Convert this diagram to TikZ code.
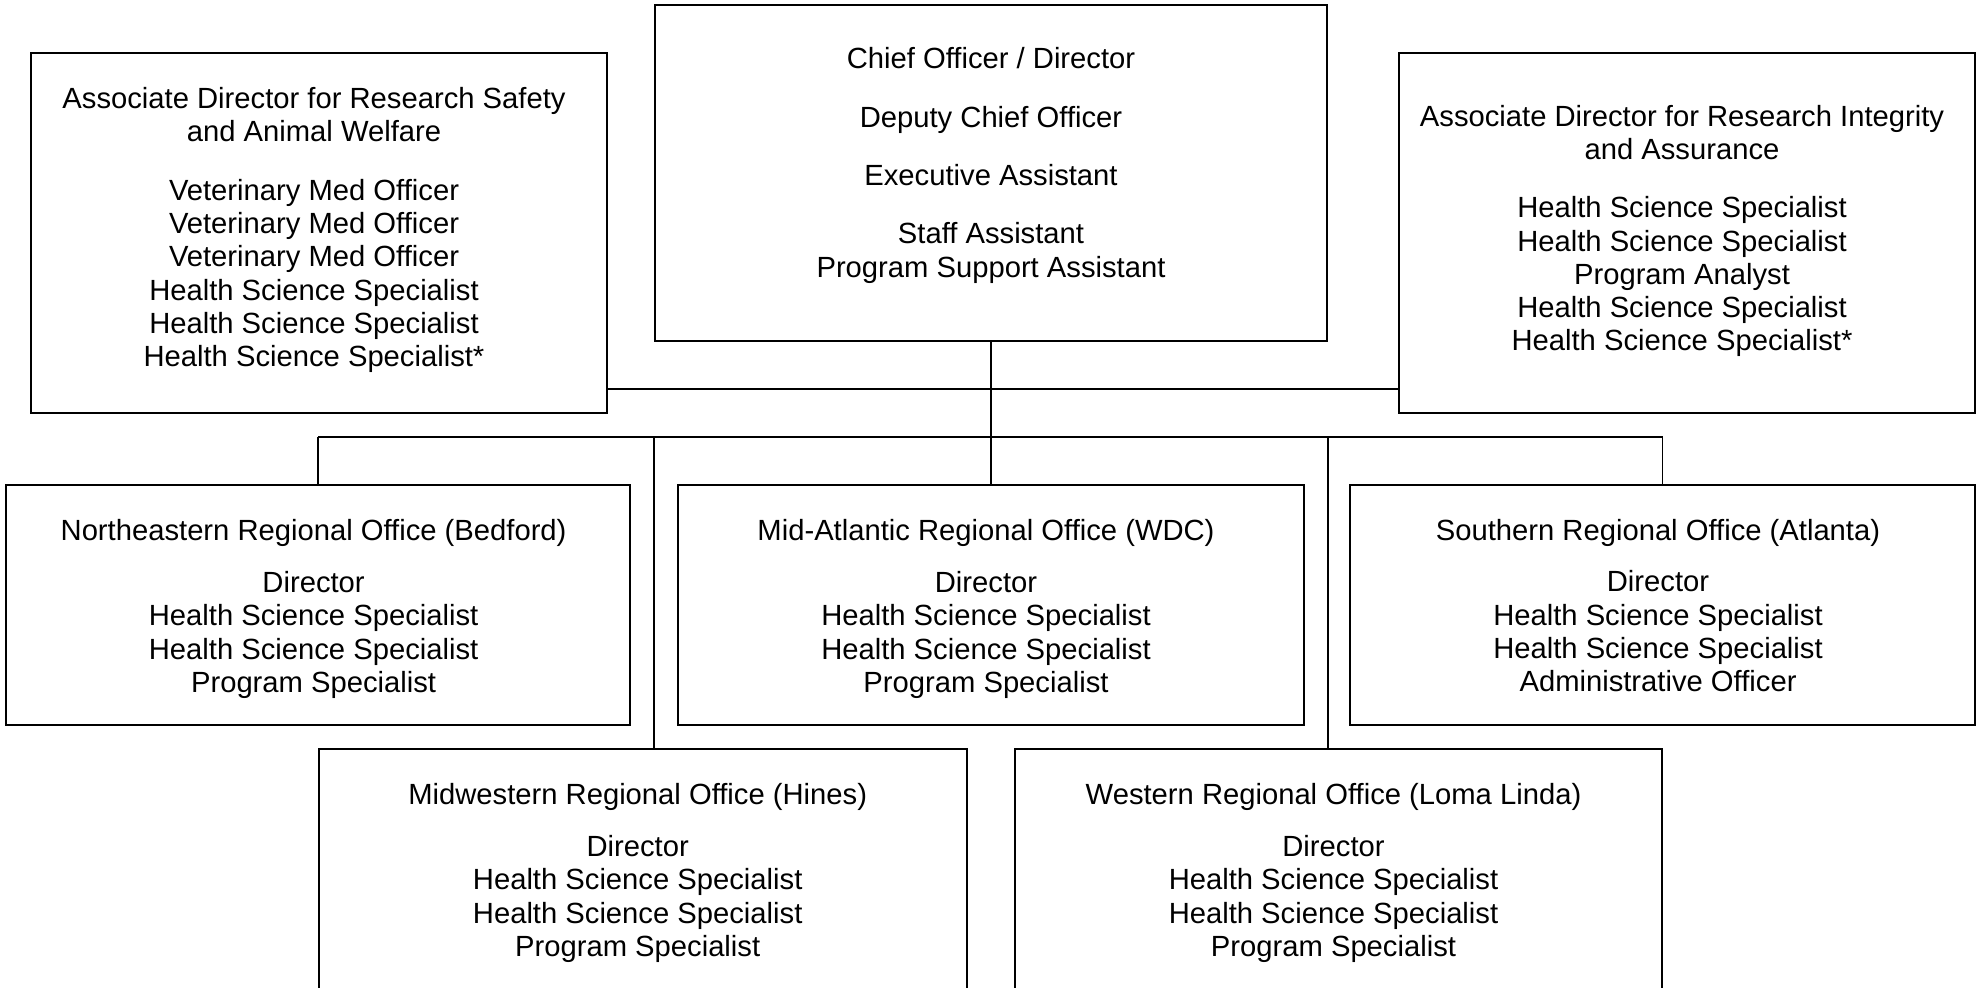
\documentclass[tikz,border=0pt]{standalone}
\usepackage{fontspec}
\setmainfont{Liberation Sans}
\usetikzlibrary{fit}
\begin{document}
\begin{tikzpicture}[x=0.5pt,y=-0.5pt,
  box/.style={draw=black, line width=0.9pt, inner sep=0pt, rectangle},
  lbl/.style={align=center, font=\fontsize{14.6pt}{16.65pt}\selectfont, inner sep=0pt, text=black},
  conn/.style={draw=black, line width=0.9pt}]
\useasboundingbox (0,0) rectangle (1981,987);
\fill[white] (0,0) rectangle (1981,987);
\clip (0,0) rectangle (1981,987);

% boxes
\node[box, fit={(31,53) (607,413)}] (adrs) {};
\node[box, fit={(655,5) (1327,341)}] (chief) {};
\node[box, fit={(1399,53) (1975,413)}] (adri) {};
\node[box, fit={(6,485) (630,725)}] (ne) {};
\node[box, fit={(678,485) (1304,725)}] (ma) {};
\node[box, fit={(1350,485) (1975,725)}] (so) {};
\node[box, fit={(319,749) (967,989)}] (mw) {};
\node[box, fit={(1015,749) (1662,989)}] (we) {};

% texts
\node[lbl] (tadrs) at (314,230) {Associate Director for Research Safety\\and Animal Welfare\\[12.5pt]Veterinary Med Officer\\Veterinary Med Officer\\Veterinary Med Officer\\Health Science Specialist\\Health Science Specialist\\Health Science Specialist*};
\node[lbl] (tchief) at (991,165.5) {Chief Officer / Director\\[12.5pt]Deputy Chief Officer\\[12.5pt]Executive Assistant\\[12.5pt]Staff Assistant\\Program Support Assistant};
\node[lbl] (tadri) at (1682,231) {Associate Director for Research Integrity\\and Assurance\\[12.5pt]Health Science Specialist\\Health Science Specialist\\Program Analyst\\Health Science Specialist\\Health Science Specialist*};
\node[lbl] (tne) at (313.6,609) {Northeastern Regional Office (Bedford)\\[9.2pt]Director\\Health Science Specialist\\Health Science Specialist\\Program Specialist};
\node[lbl] (tma) at (986,609) {Mid-Atlantic Regional Office (WDC)\\[9.2pt]Director\\Health Science Specialist\\Health Science Specialist\\Program Specialist};
\node[lbl] (tso) at (1658,605.5) {Southern Regional Office (Atlanta)\\[9.2pt]Director\\Health Science Specialist\\Health Science Specialist\\Administrative Officer};
\node[lbl] (tmw) at (637.7,873) {Midwestern Regional Office (Hines)\\[9.2pt]Director\\Health Science Specialist\\Health Science Specialist\\Program Specialist};
\node[lbl] (twe) at (1333.5,873) {Western Regional Office (Loma Linda)\\[9.2pt]Director\\Health Science Specialist\\Health Science Specialist\\Program Specialist};

% connectors
\coordinate (j1) at (991,389);
\coordinate (j2) at (991,437);
\draw[conn] (adrs.east |- j1) -- (adri.west |- j1);
\draw[conn] (chief.south) -- (j2);
\draw[conn] (ne.north |- j2) -- (so.north |- j2);
\draw[conn] (ne.north |- j2) -- (ne.north);
\draw[conn] (ma.north |- j2) -- (ma.north);
\draw[conn] (so.north |- j2) -- (so.north);
\draw[conn] (chief.south west |- j2) -- (chief.south west |- mw.north);
\draw[conn] (chief.south east |- j2) -- (chief.south east |- we.north);
\end{tikzpicture}
\end{document}
